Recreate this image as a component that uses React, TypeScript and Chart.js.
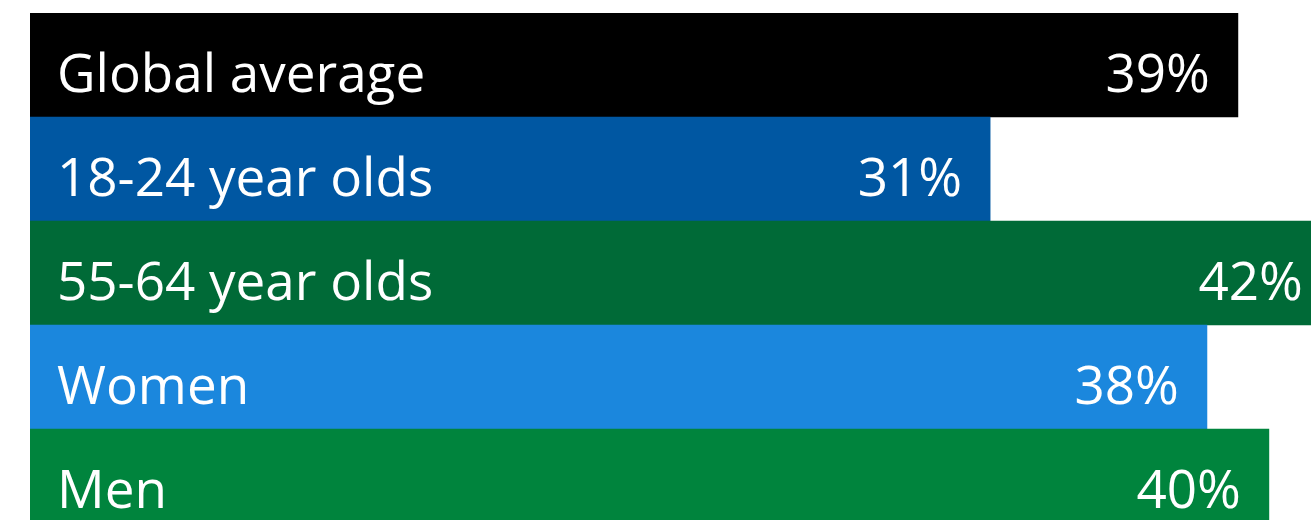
import React, { useEffect, useRef } from "react";
import { Chart, registerables } from "chart.js";

Chart.register(...registerables);

const categories = ["Global average", "18-24 year olds", "55-64 year olds", "Women", "Men"];
const values = [39, 31, 42, 38, 40];
const valueLabels = ["39%", "31%", "42%", "38%", "40%"];
const barColors = ["#000000", "#0057a2", "#006a37", "#1b87dd", "#00843d"];

const FONT = '53px "Open Sans", "Noto Sans", sans-serif';

const labelPlugin = {
  id: "barLabels",
  afterDatasetsDraw(chart: any) {
    const { ctx, chartArea } = chart;
    const meta = chart.getDatasetMeta(0);
    ctx.save();
    ctx.fillStyle = "#ffffff";
    ctx.font = FONT;
    ctx.textBaseline = "alphabetic";
    meta.data.forEach((bar: any, i: number) => {
      const y = bar.y + 27;
      ctx.textAlign = "left";
      ctx.fillText(categories[i], chartArea.left + 27, y);
      ctx.textAlign = "right";
      ctx.fillText(valueLabels[i], bar.x - 28, y);
    });
    ctx.restore();
  },
};

export default function App() {
  const ref = useRef<HTMLCanvasElement | null>(null);
  useEffect(() => {
    if (!ref.current) return;
    const chart = new Chart(ref.current, {
      type: "bar",
      data: {
        labels: categories,
        datasets: [
          {
            data: values,
            backgroundColor: barColors,
            borderWidth: 0,
            barPercentage: 1,
            categoryPercentage: 1,
          },
        ],
      },
      options: {
        indexAxis: "y",
        animation: false,
        responsive: false,
        maintainAspectRatio: false,
        layout: { padding: { left: 30, top: 13, right: 0, bottom: 0 } },
        plugins: { legend: { display: false }, tooltip: { enabled: false } },
        scales: {
          x: { display: false, min: 0, max: 41.36, grid: { display: false } },
          y: { display: false, grid: { display: false } },
        },
      },
      plugins: [labelPlugin],
    });
    return () => chart.destroy();
  }, []);
  return (
    <div style={{ position: "fixed", left: 0, top: 0, width: 1311, height: 533, background: "#ffffff" }}>
      <canvas ref={ref} width={1311} height={533} style={{ width: 1311, height: 533, display: "block" }} />
    </div>
  );
}
